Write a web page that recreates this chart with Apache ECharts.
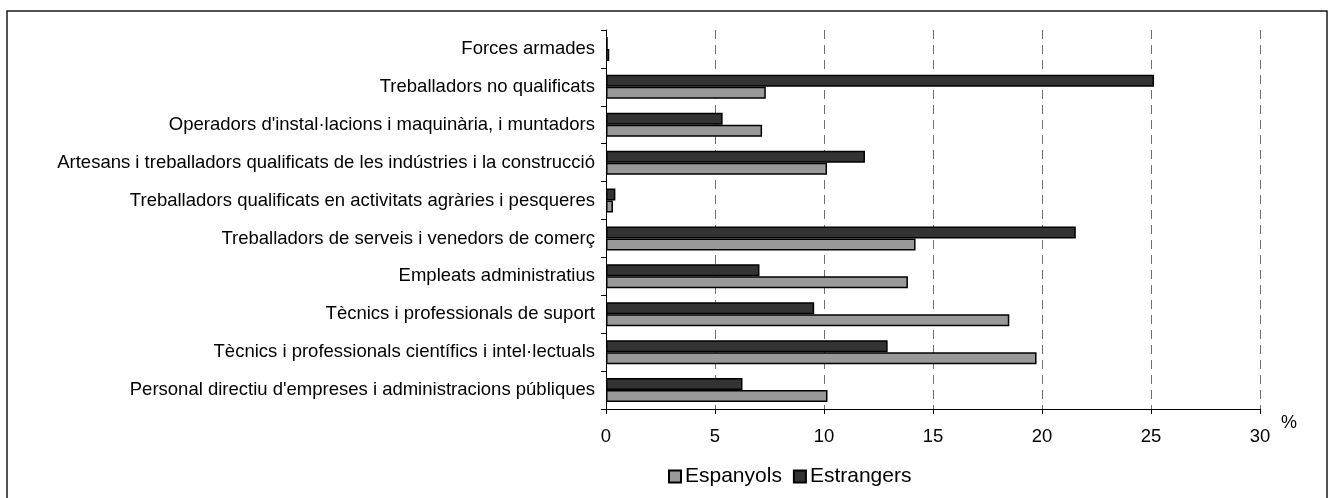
<!DOCTYPE html>
<html>
<head>
<meta charset="utf-8">
<title>Ocupació per grups professionals</title>
<script src="https://cdn.jsdelivr.net/npm/echarts@6/dist/echarts.min.js"></script>
<style>
  html, body { margin: 0; padding: 0; background: #fff; }
  #chart { width: 1330px; height: 498px; }
</style>
</head>
<body>
<div id="chart"></div>
<script>
// Occupational groups, listed from the bottom of the axis upwards
const categories = [
  "Personal directiu d'empreses i administracions públiques",
  "Tècnics i professionals científics i intel·lectuals",
  "Tècnics i professionals de suport",
  "Empleats administratius",
  "Treballadors de serveis i venedors de comerç",
  "Treballadors qualificats en activitats agràries i pesqueres",
  "Artesans i treballadors qualificats de les indústries i la construcció",
  "Operadors d'instal·lacions i maquinària, i muntadors",
  "Treballadors no qualificats",
  "Forces armades"
];

// Share of workers in each group (%)
const espanyols  = [10.16, 19.75, 18.5, 13.85, 14.2, 0.32, 10.14, 7.16, 7.33, 0.15];
const estrangers = [6.26, 12.92, 9.55, 7.04, 21.55, 0.43, 11.88, 5.35, 25.14, 0.08];

const xTicks = [0, 5, 10, 15, 20, 25, 30];

const FONT = "'Liberation Sans', Arial, sans-serif";

const chart = echarts.init(document.getElementById('chart'), null, { renderer: 'canvas' });

chart.setOption({
  backgroundColor: '#ffffff',
  animation: false,
  textStyle: { fontFamily: FONT, color: '#000' },
  graphic: [{
    type: 'rect',
    shape: { x: 7, y: 11, width: 1320, height: 520 },
    style: { fill: 'none', stroke: '#1a1a1a', lineWidth: 1.5 },
    silent: true,
    z: -1
  }],
  grid: { left: 606, right: 70, top: 30, bottom: 89, containLabel: false },
  legend: {
    data: ['Espanyols', 'Estrangers'],
    left: 663,
    top: 461,
    icon: 'rect',
    itemWidth: 12,
    itemHeight: 12,
    itemGap: 11,
    textStyle: { fontFamily: FONT, fontSize: 21, color: '#000', padding: [0, 0, 0, -1] }
  },
  xAxis: {
    type: 'value',
    min: xTicks[0],
    max: xTicks[xTicks.length - 1],
    interval: 5,
    name: '%',
    nameLocation: 'end',
    nameGap: 21,
    nameTextStyle: { fontFamily: FONT, fontSize: 18, color: '#000', verticalAlign: 'top', padding: [5, 0, 0, 0] },
    axisLine: { show: true, lineStyle: { color: '#000', width: 1 } },
    axisTick: { show: true, length: 5, lineStyle: { color: '#000', width: 1 } },
    axisLabel: { margin: 18, fontFamily: FONT, fontSize: 18.5, color: '#000' },
    splitLine: {
      show: true,
      lineStyle: { color: '#6f6f6f', width: 1, type: [9, 6] }
    }
  },
  yAxis: {
    type: 'category',
    data: categories,
    axisLine: { show: true, lineStyle: { color: '#000', width: 1 } },
    axisTick: { show: true, length: 5, lineStyle: { color: '#000', width: 1 } },
    axisLabel: { margin: 11, fontFamily: FONT, fontSize: 18.5, color: '#000' },
    splitLine: { show: false }
  },
  // Estrangers comes first so its bar sits above Espanyols in each group
  series: [
    {
      name: 'Estrangers',
      type: 'bar',
      data: estrangers,
      barWidth: 12,
      barGap: '0%',
      itemStyle: { color: '#333333', borderColor: '#000', borderWidth: 1.5 }
    },
    {
      name: 'Espanyols',
      type: 'bar',
      data: espanyols,
      barWidth: 12,
      barGap: '0%',
      itemStyle: { color: '#999999', borderColor: '#000', borderWidth: 1.5 }
    }
  ]
});
</script>
</body>
</html>
